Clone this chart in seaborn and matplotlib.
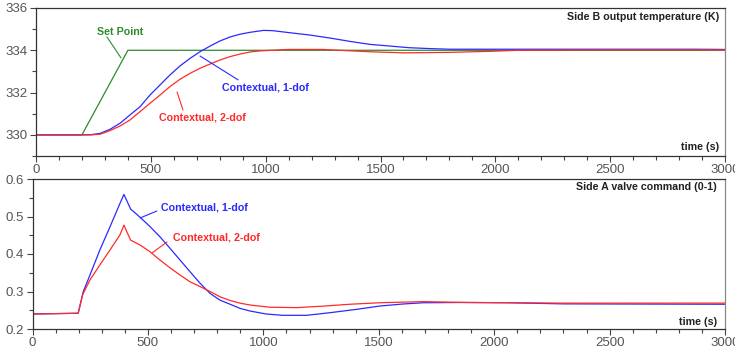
import numpy as np
import pandas as pd
import matplotlib
matplotlib.use("Agg")
import matplotlib.pyplot as plt
from matplotlib.ticker import MultipleLocator
import seaborn as sns

# ---- data ----
sp_t = [0, 200, 400, 3000]
sp_v = [330, 330, 334, 334]

temp1_t = [0, 200, 240, 279, 322, 366, 409, 453, 496, 540, 583, 627, 671, 714,
           758, 801, 845, 888, 932, 990, 1029, 1106, 1193, 1280, 1367, 1454,
           1541, 1628, 1715, 1802, 2019, 2870, 3000]
temp1_v = [330, 330, 330.01, 330.07, 330.26, 330.55, 330.94, 331.33, 331.88,
           332.36, 332.83, 333.26, 333.62, 333.93, 334.2, 334.44, 334.63, 334.76,
           334.85, 334.94, 334.93, 334.83, 334.72, 334.58, 334.42, 334.28, 334.2,
           334.12, 334.08, 334.05, 334.05, 334.05, 334.04]

temp2_t = [0, 200, 240, 279, 322, 366, 409, 453, 496, 540, 583, 627, 671, 714,
           758, 801, 845, 888, 932, 975, 1100, 1250, 1300, 1454, 1600, 1790,
           1976, 2100, 2547, 3000]
temp2_v = [330, 330, 330.0, 330.03, 330.2, 330.42, 330.70, 331.1, 331.49, 331.88,
           332.28, 332.63, 332.91, 333.15, 333.35, 333.54, 333.70, 333.82, 333.92,
           333.97, 334.04, 334.04, 334.01, 333.93, 333.88, 333.9, 333.95, 334.0,
           334.02, 334.02]

valve1_t = [0, 198, 220, 249, 292, 336, 379, 396, 425, 466, 509, 552, 596, 639,
            682, 726, 769, 812, 856, 899, 942, 1012, 1083, 1188, 1289, 1405,
            1505, 1606, 1693, 1852, 2066, 2300, 3000]
valve1_v = [0.24, 0.242, 0.30, 0.344, 0.411, 0.473, 0.535, 0.559, 0.52, 0.498,
            0.473, 0.446, 0.415, 0.384, 0.353, 0.322, 0.295, 0.277, 0.266, 0.255,
            0.248, 0.24, 0.2365, 0.2365, 0.2435, 0.2525, 0.2613, 0.2667, 0.27,
            0.2707, 0.270, 0.267, 0.266]

valve2_t = [0, 198, 217, 249, 292, 336, 379, 396, 425, 466, 509, 552, 596, 639,
            682, 726, 769, 812, 856, 899, 942, 1029, 1144, 1260, 1375, 1505, 1693,
            1852, 2066, 2300, 3000]
valve2_v = [0.24, 0.242, 0.291, 0.331, 0.371, 0.411, 0.451, 0.477, 0.437, 0.424,
            0.406, 0.384, 0.363, 0.344, 0.326, 0.313, 0.30, 0.286, 0.276, 0.269,
            0.264, 0.258, 0.257, 0.261, 0.266, 0.270, 0.273, 0.271, 0.270, 0.269,
            0.269]

x_ticks = [0, 500, 1000, 1500, 2000, 2500, 3000]

sns.set_style("white")
plt.rcParams['font.family'] = ['Liberation Sans', 'DejaVu Sans']

BLUE = '#2a2aff'
RED = '#ff2a2a'
GREEN = '#2e8b2e'
TICKC = '#555555'

fig = plt.figure(figsize=(7.35, 3.5), dpi=100)
ax1 = fig.add_axes([36/735, 1-156/350, 689/735, 148/350])
ax2 = fig.add_axes([32.5/735, 1-329/350, 692.5/735, 150/350])

top = pd.concat([
    pd.DataFrame({'t': sp_t, 'v': sp_v, 's': 'Set Point'}),
    pd.DataFrame({'t': temp1_t, 'v': temp1_v, 's': 'Contextual, 1-dof'}),
    pd.DataFrame({'t': temp2_t, 'v': temp2_v, 's': 'Contextual, 2-dof'}),
])
bot = pd.concat([
    pd.DataFrame({'t': valve1_t, 'v': valve1_v, 's': 'Contextual, 1-dof'}),
    pd.DataFrame({'t': valve2_t, 'v': valve2_v, 's': 'Contextual, 2-dof'}),
])
pal = {'Set Point': GREEN, 'Contextual, 1-dof': BLUE, 'Contextual, 2-dof': RED}

sns.lineplot(data=top, x='t', y='v', hue='s', palette=pal, ax=ax1,
             legend=False, linewidth=0.9, sort=False, estimator=None)
sns.lineplot(data=bot, x='t', y='v', hue='s', palette=pal, ax=ax2,
             legend=False, linewidth=0.9, sort=False, estimator=None)

for ax in (ax1, ax2):
    ax.set_xlim(0, 3000)
    ax.set_xticks(x_ticks)
    ax.xaxis.set_minor_locator(MultipleLocator(100))
    ax.set_xlabel('')
    ax.set_ylabel('')
    ax.tick_params(which='both', direction='out', colors='#444444',
                   labelcolor=TICKC, labelsize=9.5, bottom=True, left=True,
                   top=False, right=False, pad=2)
    ax.tick_params(which='major', length=4, width=0.8)
    ax.tick_params(which='minor', length=3, width=0.8)
    for side in ('left', 'bottom', 'top'):
        ax.spines[side].set_color('#333333')
        ax.spines[side].set_linewidth(0.9)
    ax.spines['right'].set_color('#888888')
    ax.spines['right'].set_linewidth(0.9)

ax1.set_ylim(329, 336)
ax1.set_yticks([330, 332, 334, 336])
ax1.yaxis.set_minor_locator(MultipleLocator(1))
ax2.set_ylim(0.2, 0.6)
ax2.set_yticks([0.2, 0.3, 0.4, 0.5, 0.6])
ax2.set_yticklabels(['0.2', '0.3', '0.4', '0.5', '0.6'])
ax2.yaxis.set_minor_locator(MultipleLocator(0.05))

fs = 7.7
# titles and axis labels inside
ax1.text(0.991, 0.939, 'Side B output temperature (K)', transform=ax1.transAxes,
         ha='right', va='center', fontsize=fs, fontweight='bold', color='#222222')
ax1.text(0.991, 0.061, 'time (s)', transform=ax1.transAxes,
         ha='right', va='center', fontsize=fs, fontweight='bold', color='#222222')
ax2.text(0.988, 0.947, 'Side A valve command (0-1)', transform=ax2.transAxes,
         ha='right', va='center', fontsize=fs, fontweight='bold', color='#222222')
ax2.text(0.988, 0.047, 'time (s)', transform=ax2.transAxes,
         ha='right', va='center', fontsize=fs, fontweight='bold', color='#222222')

# labels with pointer lines
def label(ax, txt, xy_txt, p0, p1, color):
    ax.text(xy_txt[0], xy_txt[1], txt, ha='left', va='center', fontsize=fs,
            fontweight='bold', color=color)
    ax.plot([p0[0], p1[0]], [p0[1], p1[1]], color=color, linewidth=0.8)

label(ax1, 'Set Point', (265.6, 334.86), (309, 334.63), (370, 333.64), GREEN)
label(ax1, 'Contextual, 1-dof', (810, 332.22), (880, 332.6), (714, 333.73), BLUE)
label(ax1, 'Contextual, 2-dof', (535, 330.84), (640, 331.18), (614, 332.03), RED)
label(ax2, 'Contextual, 1-dof', (556.7, 0.5227), (539, 0.5147), (466, 0.496), BLUE)
label(ax2, 'Contextual, 2-dof', (608.7, 0.4453), (582.7, 0.432), (517.7, 0.4027), RED)

fig.savefig('out.png', dpi=100)
